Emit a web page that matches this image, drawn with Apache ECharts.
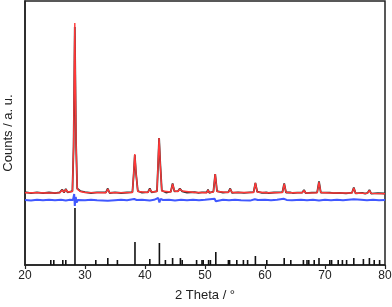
<!DOCTYPE html>
<html><head><meta charset="utf-8">
<script src="https://cdn.jsdelivr.net/npm/echarts@6/dist/echarts.min.js"></script>
<style>html,body{margin:0;padding:0;background:#fff}#c{width:392px;height:307px}</style>
</head><body><div id="c"></div>
<script>
const xTicks = [20, 30, 40, 50, 60, 70, 80];
const calculated = [[20,72.3],[22,72.2],[24,72.0],[25.8,72.3],[26.2,75],[26.5,72.8],[26.8,75.5],[27.1,73],[27.9,73.5],[28.1,120],[28.3,242],[28.5,125],[28.7,76],[29.2,73.5],[30,72.5],[33.5,72.2],[33.8,76],[34.1,72.2],[37.9,72.5],[38.1,90],[38.3,111],[38.5,92],[38.8,73.5],[40.5,72.5],[40.8,76],[41.1,73],[42.0,73.5],[42.2,105],[42.35,127],[42.55,100],[42.8,74],[44.3,73],[44.6,81],[44.9,74],[45.5,73.5],[45.8,76],[46.2,74],[48.3,72.5],[48.6,73.5],[48.9,72.5],[50.3,72.3],[50.5,75],[50.7,72.5],[51.4,73],[51.7,91],[52.0,73.5],[53.9,72.5],[54.2,76],[54.5,72.5],[58.1,72.5],[58.4,82],[58.7,73],[60.2,72.2],[60.4,73],[60.6,72.2],[62.9,72.5],[63.2,81],[63.5,72.8],[64.2,72.3],[64.4,73.5],[64.6,72.2],[66.2,72.2],[66.5,74.5],[66.8,72],[68.7,72.3],[69.0,83],[69.3,72.5],[70.8,72],[71.1,73.5],[71.4,72],[74.5,72],[74.8,77],[75.1,71.8],[76.2,71.8],[76.4,73],[76.7,71.6],[77.1,71.8],[77.4,74.5],[77.7,71.6],[80,71.3]];
const observed = [[20,72.8],[21,71.8],[22,72.6],[23,71.9],[24,72.5],[25,71.8],[25.8,72.6],[26.2,75.5],[26.5,72.4],[26.8,76],[27.1,72.6],[27.9,73.8],[28.1,118],[28.3,238],[28.5,124],[28.7,76.5],[29.2,74],[30,72.8],[31,72],[32,72.6],[33.5,72.6],[33.8,76.5],[34.1,72],[35,72.6],[36,72],[37,72.5],[37.9,72.8],[38.1,89],[38.3,110],[38.5,92],[38.8,74],[39.5,72.3],[40.5,72.8],[40.8,76.5],[41.1,72.7],[42.0,73.8],[42.2,103],[42.35,127],[42.55,101],[42.8,74.5],[43.5,72.5],[44.3,73.3],[44.6,81.5],[44.9,73.6],[45.5,73.8],[45.8,76.5],[46.2,73.6],[47,72.5],[48.3,72.8],[48.6,74],[48.9,72.2],[49.5,72.7],[50.3,72.6],[50.5,75.5],[50.7,72.2],[51.4,73.3],[51.7,91],[52.0,73.8],[53,72.3],[53.9,72.8],[54.2,76.5],[54.5,72.2],[55.5,72.7],[56.5,72.1],[57.5,72.6],[58.1,72.8],[58.4,82],[58.7,73.3],[59.5,72.1],[60.2,72.5],[60.4,73.4],[60.6,72],[61.5,72.5],[62.9,72.8],[63.2,81.5],[63.5,72.5],[64.2,72.6],[64.4,73.8],[64.6,72],[65.4,72.4],[66.2,72.5],[66.5,75],[66.8,71.8],[67.8,72.3],[68.7,72.6],[69.0,83.5],[69.3,72.3],[70.8,72.3],[71.1,74],[71.4,71.8],[72.5,72.2],[73.5,71.7],[74.5,72.3],[74.8,77.5],[75.1,71.6],[76.2,72.1],[76.4,73.4],[76.7,71.4],[77.1,72.1],[77.4,75],[77.7,71.4],[78.8,71.8],[80,71.5]];
const difference = [[20,65],[21,64.6],[22,65.3],[23,64.7],[24,65.3],[25,64.8],[26,65.2],[26.3,65.8],[26.8,64.4],[27.5,65.2],[28.0,65],[28.2,71],[28.3,59],[28.45,68],[28.6,62.5],[28.8,65],[30,64.7],[31,65.3],[32,64.8],[33.8,64.2],[34,65.3],[35,64.8],[36,65.3],[37,64.7],[38.2,66],[38.4,64],[38.6,65],[39.5,65.3],[40.8,64.6],[41.5,65.2],[42.2,67],[42.4,62.5],[42.6,66],[43,65],[44,65.3],[45,64.6],[46,65.2],[47,64.8],[48,65.3],[49,64.7],[50,65.2],[51.6,66.2],[51.8,63.8],[52,65],[53,65.3],[54,64.7],[55,65.3],[56,64.8],[57.5,64.4],[58.3,65.8],[58.5,64.2],[58.8,65],[60,65.3],[61,64.8],[62,65.3],[63.1,66.2],[63.3,64.3],[63.6,65.1],[64.5,64.7],[66,65.2],[67,64.7],[68,65.2],[69,64.5],[70,65.2],[71,64.8],[72,65.3],[73,64.8],[74.8,65.7],[75,64.6],[76,65.2],[77,64.8],[78,65.2],[79,64.8],[80,64.9]];
const braggPos = [24.3,24.8,26.3,26.8,28.33,31.8,33.8,35.4,38.33,40.8,42.4,43.4,44.6,45.9,46.2,48.6,49.5,49.7,50.6,50.9,51.8,53.9,54.1,55.3,56.4,57.1,58.4,60.3,63.2,64.3,66.4,67.0,67.3,68.2,69.0,70.8,71.1,72.2,72.9,73.6,74.8,76.4,77.4,78.2,79.1];
const braggInt = [5,5,5,5,57,5,7,5,23,6,22,5,7,7,5,5,5,5,5,5,13,5,5,5,5,5,9,5,7,5,5,5,5,5,7,5,5,5,5,5,7,6,7,5,5];

const chart = echarts.init(document.getElementById('c'), null, {renderer:'canvas'});
const FONT = 'Liberation Sans';
chart.setOption({
  animation: false,
  grid: {left: 25, right: 7, top: 1, bottom: 42, show: true, borderColor: '#222', borderWidth: 1.5, backgroundColor: 'transparent', outerBoundsMode: 'none', containLabel: false},
  xAxis: {
    type: 'value', min: 20, max: 80, interval: 10,
    name: '2 Theta / °', nameLocation: 'middle', nameGap: 24,
    nameTextStyle: {fontFamily: FONT, fontSize: 13, color: '#222'},
    axisLine: {show: true, onZero: false, lineStyle: {color: '#222', width: 1.5}},
    axisTick: {show: true, inside: false, length: 4, lineStyle: {color: '#222', width: 1.2}},
    axisLabel: {fontFamily: FONT, fontSize: 12, color: '#222', margin: 5,
      formatter: v => xTicks.includes(v) ? String(v) : ''},
    splitLine: {show: false}
  },
  yAxis: {
    type: 'value', min: 0, max: 264,
    name: 'Counts / a. u.', nameLocation: 'middle', nameGap: 10,
    nameTextStyle: {fontFamily: FONT, fontSize: 13, color: '#222'},
    axisLine: {show: true, lineStyle: {color: '#222', width: 1.5}},
    axisTick: {show: false}, axisLabel: {show: false}, splitLine: {show: false}
  },
  series: [
    {name: 'Bragg', type: 'bar', data: braggPos.map((p, i) => [p, braggInt[i]]), barWidth: 1.6,
      itemStyle: {color: '#111'}, silent: true},
    {name: 'Difference', type: 'line', data: difference, symbol: 'none',
      lineStyle: {color: '#4058ff', width: 2}},
    {name: 'Observed', type: 'line', data: observed, symbol: 'none',
      lineStyle: {color: '#333', width: 1.8}},
    {name: 'Calculated', type: 'line', data: calculated, symbol: 'none',
      lineStyle: {color: '#ff3838', width: 1.4}}
  ]
});
</script></body></html>
